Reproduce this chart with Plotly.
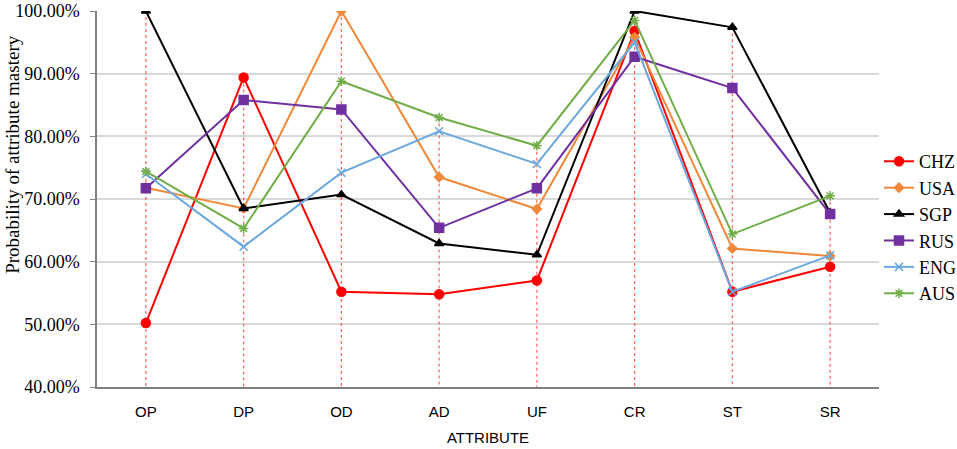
import plotly.graph_objects as go

attributes = ["OP", "DP", "OD", "AD", "UF", "CR", "ST", "SR"]

chz = [50.2, 89.4, 55.2, 54.8, 57.0, 96.8, 55.2, 59.2]
usa = [71.8, 68.5, 100.0, 73.5, 68.4, 95.8, 62.1, 60.9]
sgp = [100.0, 68.5, 70.7, 62.9, 61.1, 100.0, 97.4, 67.8]
rus = [71.7, 85.8, 84.3, 65.4, 71.7, 92.7, 87.7, 67.6]
eng = [74.0, 62.4, 74.2, 80.8, 75.6, 95.0, 55.2, 61.0]
aus = [74.4, 65.3, 88.8, 83.0, 78.5, 98.5, 64.4, 70.5]

series = [
    ("CHZ", chz, "#FF0000", "circle", 9),
    ("USA", usa, "#F0883A", "diamond", 7),
    ("SGP", sgp, "#000000", "triangle-up", 8),
    ("RUS", rus, "#7030A0", "square", 9),
    ("ENG", eng, "#6CA7DE", "x-thin-open", 8),
    ("AUS", aus, "#70AD47", "asterisk-open", 8),
]

fig = go.Figure()

# Excel-style drop lines from the highest point down to the axis
drop_x, drop_y = [], []
for i, cat in enumerate(attributes):
    top = max(s[1][i] for s in series)
    drop_x += [cat, cat, None]
    drop_y += [top, 40, None]
fig.add_trace(go.Scatter(
    x=drop_x, y=drop_y, mode="lines", showlegend=False, hoverinfo="skip",
    line=dict(color="rgba(255,60,60,0.75)", width=1.3, dash="dot"),
))

for name, vals, color, symbol, size in series:
    fig.add_trace(go.Scatter(
        x=attributes, y=vals, name=name, mode="lines+markers",
        line=dict(color=color, width=2),
        marker=dict(symbol=symbol, size=size, color=color,
                    line=dict(color=color, width=1.5)),
    ))

fig.update_layout(
    width=957, height=449,
    margin=dict(l=97, r=78, t=11, b=62, autoexpand=False),
    plot_bgcolor="white", paper_bgcolor="white",
    font=dict(family="Liberation Serif", color="black"),
    legend=dict(x=1.0, y=0.424, xanchor="left", yanchor="middle",
                font=dict(family="Liberation Serif", size=18),
                itemwidth=30, tracegroupgap=0),
)

# y title sits above the plot centre in the original, so place it by hand
fig.add_annotation(
    text="Probability of attribute mastery", textangle=-90,
    xref="paper", yref="paper", x=-0.109, y=0.617,
    xanchor="center", yanchor="middle", showarrow=False,
    font=dict(family="Liberation Serif", size=19),
)

fig.update_xaxes(
    range=[-0.5, 7.5], showgrid=False, automargin=False,
    showline=True, linecolor="#7F7F7F", linewidth=1.5,
    ticklabelstandoff=10,
    tickfont=dict(family="Liberation Sans", size=15),
    title=dict(text="ATTRIBUTE", font=dict(family="Liberation Sans", size=15), standoff=14),
)
fig.update_yaxes(
    range=[40, 100], dtick=10, tickformat=".2f", ticksuffix="%",
    showgrid=True, gridcolor="#D9D9D9", gridwidth=1.5, automargin=False,
    showline=True, linecolor="#7F7F7F", linewidth=1.5,
    ticks="outside", ticklen=5, tickcolor="#7F7F7F",
    ticklabelstandoff=7,
    tickfont=dict(family="Liberation Serif", size=18),
)

# drop the browser's default body margin so the figure sits at the page corner
fig.write_html("out.html", config={"displayModeBar": False},
               post_script="document.body.style.margin='0';")
